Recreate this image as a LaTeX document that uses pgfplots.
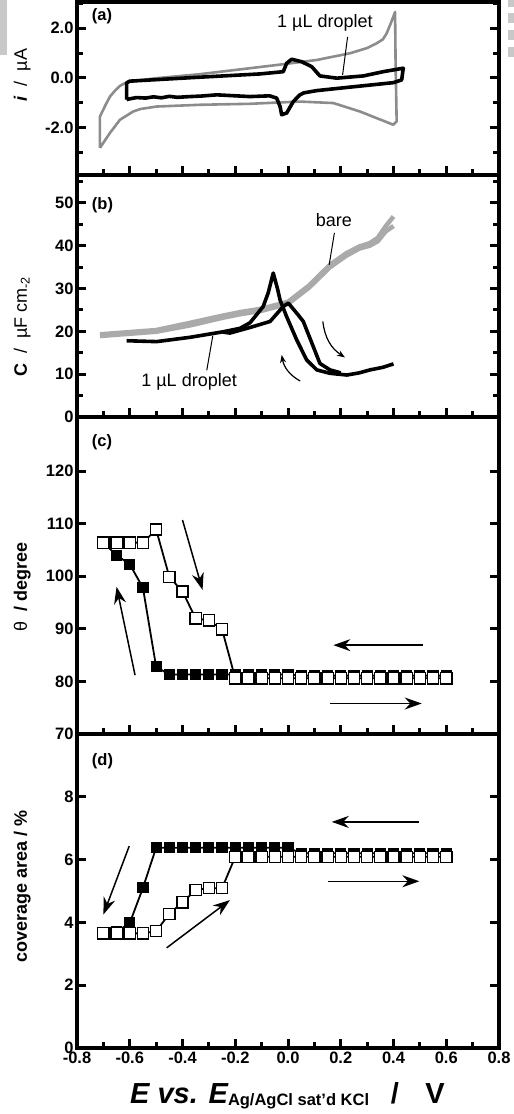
\documentclass[border=0pt]{standalone}
\usepackage{fontspec}
\setmainfont{Liberation Sans}
\usepackage{pgfplots}
\pgfplotsset{compat=1.18}
\usetikzlibrary{arrows.meta}

\definecolor{ga}{RGB}{140,140,140}
\definecolor{gb}{RGB}{170,170,170}
\definecolor{artif}{RGB}{200,200,200}

\tikzset{bigarrow/.style={line width=1.5pt, -{Stealth[length=17pt,width=12pt]}}}

\pgfplotsset{
  panel/.style={
    scale only axis, width=422pt, xmin=-0.8, xmax=0.8,
    axis line style={line width=3.5pt},
    tick align=inside, xtick pos=left, ytick pos=both,
    xtick={-0.8,-0.6,-0.4,-0.2,0,0.2,0.4,0.6,0.8},
    minor xtick={-0.7,-0.5,-0.3,-0.1,0.1,0.3,0.5,0.7},
    major tick length=9pt, minor tick length=6pt,
    every tick/.style={line width=3pt, black},
    xticklabels={},
    ticklabel style={font=\bfseries\fontsize{16.5}{18}\selectfont},
    /pgf/number format/assume math mode=true,
    clip mode=individual,
  },
  ylab/.style={every axis y label/.style={rotate=90, anchor=center, font=\fontsize{18}{20}\selectfont, at={(axis description cs:-0.13,#1)}}},
  openm/.style={black, line width=1.8pt, mark=square*, mark size=5.6pt, mark options={fill=white, draw=black, line width=1.3pt, solid}},
  filledm/.style={black, line width=1.8pt, mark=square*, mark size=5.1pt, mark options={fill=black, draw=black, line width=1pt, solid}},
}

\begin{document}
\begin{tikzpicture}
\path[use as bounding box] (0pt,0pt) rectangle (514pt,1114pt);
% scan margins seen at the top corners of the reference
\fill[artif] (0pt,1059pt) rectangle (7pt,1114pt);
\fill[artif] (508pt,1107pt) rectangle (514pt,1114pt);
\fill[artif] (508pt,1091pt) rectangle (514pt,1101pt);
\fill[artif] (508pt,1074pt) rectangle (514pt,1084pt);
\fill[artif] (508pt,1057pt) rectangle (514pt,1067pt);

% ---------------- (a) ----------------
\begin{axis}[panel, at={(77pt,939pt)}, anchor=south west, height=173pt,
  ymin=-3.9, ymax=3.05, ytick={-2,0,2}, yticklabels={-2.0,0.0,2.0},
  minor ytick={-3,-1,1,3},
  ylab=0.578,
  ylabel={\textbf{\textit{i}}\ \ /\ \ µA}]
\addplot[ga, line width=2.6pt, line join=round] coordinates {
(-0.713,-2.81) (-0.713,-1.55) (-0.69,-1.05) (-0.675,-0.75) (-0.655,-0.5) (-0.637,-0.32)
(-0.62,-0.22) (-0.599,-0.15) (-0.55,-0.08) (-0.498,-0.01) (-0.334,0.15) (-0.144,0.39)
(-0.018,0.55) (0.109,0.72) (0.235,0.99) (0.3,1.2) (0.336,1.39) (0.36,1.55) (0.374,1.79)
(0.39,2.2) (0.406,2.65) (0.408,0.5) (0.412,-1.75) (0.399,-1.88) (0.273,-1.35)
(0.172,-1.01) (0.045,-0.95) (-0.144,-1.04) (-0.334,-1.08) (-0.498,-1.15) (-0.56,-1.25)
(-0.587,-1.35) (-0.637,-1.68) (-0.675,-2.21) (-0.713,-2.81)};
\addplot[black, line width=3.6pt, line join=round] coordinates {
(-0.612,-0.87) (-0.612,-0.2) (-0.6,-0.13) (-0.35,0.02) (-0.106,0.16) (-0.018,0.25)
(-0.005,0.59) (0.014,0.75) (0.052,0.65) (0.09,0.45) (0.121,0.08) (0.185,-0.01)
(0.286,0.08) (0.361,0.25) (0.437,0.39) (0.431,-0.08) (0.4,-0.19) (0.235,-0.37)
(0.109,-0.51) (0.06,-0.6) (0.045,-0.68) (0.02,-0.95) (-0.005,-1.41) (-0.024,-1.48)
(-0.03,-1.15) (-0.043,-0.81) (-0.07,-0.72) (-0.144,-0.75) (-0.27,-0.68) (-0.33,-0.73)
(-0.372,-0.75) (-0.42,-0.78) (-0.45,-0.74) (-0.48,-0.8) (-0.51,-0.76) (-0.54,-0.81)
(-0.574,-0.79) (-0.6,-0.84) (-0.612,-0.87)};
\node[anchor=base west, inner sep=0pt, font=\bfseries\fontsize{16.5}{18}\selectfont] at (axis cs:-0.744,2.32) {(a)};
\node[anchor=base, inner sep=0pt, font=\fontsize{18}{20}\selectfont] at (axis cs:0.14,2.04) {1 µL droplet};
\draw[line width=1pt] (axis cs:0.226,1.65) -- (axis cs:0.207,0.12);
\end{axis}

% ---------------- (b) ----------------
\begin{axis}[panel, at={(77pt,697pt)}, anchor=south west, height=242pt,
  ymin=0, ymax=56.5, ytick={0,10,20,30,40,50},
  minor ytick={5,15,25,35,45,55},
  ylab=0.373,
  ylabel={\textbf{C}\ \ /\ \ µF cm\textsubscript{-2}}]
\addplot[gb, line width=4.5pt, line join=round] coordinates {
(-0.713,18.9) (-0.5,19.9) (-0.37,21.4) (-0.245,23.2) (-0.18,24.0) (-0.1,24.8) (0.0,26.4)
(0.08,30.2) (0.16,35.0) (0.22,37.6) (0.27,39.3) (0.31,40.0) (0.34,41.0) (0.37,43.3) (0.4,44.6)};
\addplot[gb, line width=4.5pt, line join=round] coordinates {
(0.4,46.8) (0.37,44.5) (0.34,41.8) (0.31,40.6) (0.27,39.8) (0.22,38.2) (0.16,35.6)
(0.08,30.7) (0.0,26.9) (-0.1,25.3) (-0.18,24.5) (-0.245,23.7) (-0.37,22.0) (-0.5,20.3) (-0.713,19.3)};
\addplot[black, line width=3.6pt, line join=round] coordinates {
(-0.612,17.8) (-0.498,17.6) (-0.372,18.6) (-0.245,19.9) (-0.182,20.7) (-0.144,22.0)
(-0.094,25.8) (-0.075,29) (-0.056,33.6) (-0.04,30) (-0.03,27.3) (-0.005,23.4) (0.033,18.0)
(0.071,13.3) (0.109,11.0) (0.159,10.2) (0.223,9.8) (0.27,10.3) (0.311,11.0) (0.36,11.6) (0.4,12.4)};
\addplot[black, line width=3.6pt, line join=round] coordinates {
(-0.245,19.8) (-0.22,19.6) (-0.144,20.9) (-0.068,22.3) (-0.018,25.8) (0.001,26.6)
(0.02,25.2) (0.039,23.8) (0.058,22.3) (0.096,16.4) (0.121,12.5) (0.159,11.0) (0.2,10.3)};
\node[anchor=base west, inner sep=0pt, font=\bfseries\fontsize{16.5}{18}\selectfont] at (axis cs:-0.744,48.4) {(b)};
\node[anchor=base, inner sep=0pt, font=\fontsize{18}{20}\selectfont] at (axis cs:0.174,44.5) {bare};
\draw[line width=1pt] (axis cs:0.176,43.0) -- (axis cs:0.156,35.5);
\node[anchor=base, inner sep=0pt, font=\fontsize{18}{20}\selectfont] at (axis cs:-0.375,7.1) {1 µL droplet};
\draw[line width=1pt] (axis cs:-0.308,10.9) -- (axis cs:-0.285,19.0);
\draw[line width=1.2pt, -{Stealth[length=8pt,width=6pt]}] (axis cs:0.132,22.3) to[bend right=25] (axis cs:0.216,13.9);
\draw[line width=1.2pt, -{Stealth[length=8pt,width=6pt]}] (axis cs:0.046,8.4) to[bend left=25] (axis cs:-0.024,14.5);
\end{axis}

% ---------------- (c) ----------------
\begin{axis}[panel, at={(77pt,380pt)}, anchor=south west, height=317pt,
  ymin=70, ymax=130.3, ytick={70,80,90,100,110,120},
  ylab=0.464,
  ylabel={θ\ \ \textbf{/ degree}}]
\addplot[filledm] coordinates {
(0.6,81.1) (0.55,81.1) (0.5,81.1) (0.45,81.1) (0.4,81.1) (0.35,81.1) (0.3,81.1) (0.25,81.1)
(0.2,81.1) (0.15,81.1) (0.1,81.1) (0.05,81.1) (0,81.3) (-0.05,81.3) (-0.1,81.3) (-0.15,81.3)
(-0.2,81.3) (-0.25,81.3) (-0.3,81.3) (-0.35,81.3) (-0.4,81.3) (-0.45,81.3) (-0.5,82.8)
(-0.55,97.8) (-0.6,102.3) (-0.65,104.0) (-0.7,106.4)};
\addplot[openm] coordinates {
(-0.7,106.4) (-0.65,106.4) (-0.6,106.4) (-0.55,106.4) (-0.5,108.9) (-0.45,99.9) (-0.4,97.1)
(-0.35,92.0) (-0.3,91.6) (-0.25,89.9) (-0.2,80.6) (-0.15,80.6) (-0.1,80.6) (-0.05,80.6)
(0,80.6) (0.05,80.6) (0.1,80.6) (0.15,80.6) (0.2,80.6) (0.25,80.6) (0.3,80.6) (0.35,80.6)
(0.4,80.6) (0.45,80.6) (0.5,80.6) (0.55,80.6) (0.6,80.6)};
\node[anchor=base west, inner sep=0pt, font=\bfseries\fontsize{16.5}{18}\selectfont] at (axis cs:-0.744,124.6) {(c)};
\draw[bigarrow] (axis cs:0.511,86.9) -- (axis cs:0.172,86.9);
\draw[bigarrow] (axis cs:0.159,75.8) -- (axis cs:0.507,75.8);
\draw[bigarrow] (axis cs:-0.58,81.2) -- (axis cs:-0.65,98.0);
\draw[bigarrow] (axis cs:-0.40,110.7) -- (axis cs:-0.324,97.4);
\end{axis}

% ---------------- (d) ----------------
\begin{axis}[panel, at={(77pt,66pt)}, anchor=south west, height=314pt,
  ymin=0, ymax=10, ytick={0,2,4,6,8},
  xticklabels={-0.8,-0.6,-0.4,-0.2,0.0,0.2,0.4,0.6,0.8},
  ylab=0.513,
  ylabel={\textbf{coverage area / \%}}]
\addplot[filledm] coordinates {
(0.6,6.2) (0.55,6.2) (0.5,6.2) (0.45,6.2) (0.4,6.2) (0.35,6.2) (0.3,6.2) (0.25,6.2)
(0.2,6.2) (0.15,6.2) (0.1,6.2) (0.05,6.2) (0,6.38) (-0.05,6.38) (-0.1,6.38) (-0.15,6.38)
(-0.2,6.38) (-0.25,6.38) (-0.3,6.38) (-0.35,6.38) (-0.4,6.38) (-0.45,6.38) (-0.5,6.38)
(-0.55,5.1) (-0.6,3.98) (-0.65,3.7) (-0.7,3.65)};
\addplot[openm] coordinates {
(-0.7,3.65) (-0.65,3.65) (-0.6,3.65) (-0.55,3.65) (-0.5,3.72) (-0.45,4.27) (-0.4,4.64)
(-0.35,5.03) (-0.3,5.09) (-0.25,5.09) (-0.2,6.09) (-0.15,6.09) (-0.1,6.09) (-0.05,6.09)
(0,6.09) (0.05,6.09) (0.1,6.09) (0.15,6.09) (0.2,6.09) (0.25,6.09) (0.3,6.09) (0.35,6.09)
(0.4,6.09) (0.45,6.09) (0.5,6.09) (0.55,6.09) (0.6,6.09)};
\node[anchor=base west, inner sep=0pt, font=\bfseries\fontsize{16.5}{18}\selectfont] at (axis cs:-0.744,9.0) {(d)};
\draw[bigarrow] (axis cs:0.497,7.2) -- (axis cs:0.166,7.2);
\draw[bigarrow] (axis cs:0.153,5.31) -- (axis cs:0.498,5.31);
\draw[bigarrow] (axis cs:-0.602,6.43) -- (axis cs:-0.70,4.25);
\draw[bigarrow] (axis cs:-0.46,3.19) -- (axis cs:-0.22,4.71);
\end{axis}

% x label
\node[anchor=base west, inner sep=0pt] at (130pt,10.7pt)
  {{\fontsize{29}{32}\selectfont\bfseries\itshape E vs. E}{\fontsize{16.5}{18}\selectfont\bfseries\raisebox{-2pt}{Ag/AgCl sat’d KCl}}};
\node[anchor=base, inner sep=0pt, font=\fontsize{29}{32}\selectfont\bfseries] at (395pt,10.7pt) {/};
\node[anchor=base, inner sep=0pt, font=\fontsize{29}{32}\selectfont\bfseries] at (435pt,10.7pt) {V};
\end{tikzpicture}
\end{document}
